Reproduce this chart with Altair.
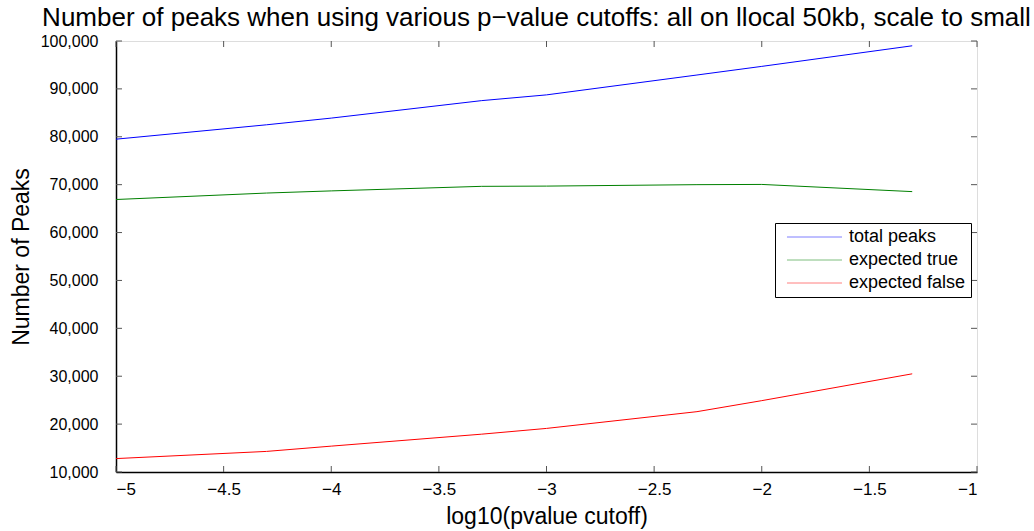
import altair as alt
import pandas as pd

log_p = [-5.0, -4.301, -4.0, -3.301, -3.0, -2.301, -2.0, -1.301]
total_peaks = [79500, 82500, 83900, 87550, 88750, 92900, 94700, 99000]
expected_true = [66900, 68250, 68700, 69650, 69700, 70000, 70050, 68550]
expected_false = [12800, 14300, 15400, 17900, 19100, 22600, 24900, 30500]
series_names = ["total peaks", "expected true", "expected false"]
series_colors = ["#0000ff", "#008000", "#ff0000"]
x_ticks = [-5, -4.5, -4, -3.5, -3, -2.5, -2, -1.5, -1]
y_ticks = [10000, 20000, 30000, 40000, 50000, 60000, 70000, 80000, 90000, 100000]

rows = []
for name, vals in zip(series_names, [total_peaks, expected_true, expected_false]):
    for x, v in zip(log_p, vals):
        rows.append({"x": x, "peaks": v, "series": name})
df = pd.DataFrame(rows)

W, H = 861, 431
FONT = "Liberation Sans"

xs = alt.Scale(domain=[-5, -1], nice=False)
ys = alt.Scale(domain=[10000, 100000], nice=False)

lines = alt.Chart(df).mark_line(strokeWidth=1, clip=True).encode(
    x=alt.X("x:Q", scale=xs,
            axis=alt.Axis(values=x_ticks, format="~g", title="log10(pvalue cutoff)",
                          ticks=False, domain=True, domainColor="black", domainWidth=1.5,
                          grid=False, labelPadding=9,
                          labelFontSize=17, titleFontSize=23, titlePadding=8,
                          labelColor="black", titleColor="black", titleFontWeight="normal",
                          labelFont=FONT, titleFont=FONT)),
    y=alt.Y("peaks:Q", scale=ys,
            axis=alt.Axis(values=y_ticks, format=",d", title="Number of Peaks",
                          ticks=False, domain=True, domainColor="black", domainWidth=1.5,
                          grid=False, labelPadding=18,
                          labelFontSize=16, titleFontSize=23, titlePadding=7,
                          labelColor="black", titleColor="black", titleFontWeight="normal",
                          labelFont=FONT, titleFont=FONT)),
    color=alt.Color("series:N", sort=series_names,
                    scale=alt.Scale(domain=series_names, range=series_colors),
                    legend=alt.Legend(title=None, orient="none", legendX=659, legendY=182,
                                      symbolType="M-0.286,0L7.57,0", symbolSize=196,
                                      symbolStrokeWidth=1, symbolOpacity=0.5,
                                      labelFontSize=18, labelFont=FONT, labelColor="black",
                                      strokeColor="black", fillColor="white", padding=5,
                                      rowPadding=5, labelOffset=51)),
)

ytick_df = pd.DataFrame({"v": y_ticks})
xtick_df = pd.DataFrame({"v": x_ticks})
tick_color = "#555555"

yl = alt.Chart(ytick_df).mark_rule(color=tick_color, strokeWidth=1).encode(
    y=alt.Y("v:Q", scale=ys), x=alt.value(0), x2=alt.value(6))
yr = alt.Chart(ytick_df).mark_rule(color=tick_color, strokeWidth=1).encode(
    y=alt.Y("v:Q", scale=ys), x=alt.value(W - 6), x2=alt.value(W))
xb = alt.Chart(xtick_df).mark_rule(color=tick_color, strokeWidth=1).encode(
    x=alt.X("v:Q", scale=xs), y=alt.value(H - 6), y2=alt.value(H))
xt = alt.Chart(xtick_df).mark_rule(color=tick_color, strokeWidth=1).encode(
    x=alt.X("v:Q", scale=xs), y=alt.value(0), y2=alt.value(6))

chart = alt.layer(yl, yr, xb, xt, lines).properties(
    width=W, height=H,
    autosize=alt.AutoSizeParams(type="none"),
    padding={"left": 116, "top": 41, "right": 57, "bottom": 59},
    title=alt.Title("Number of peaks when using various p\u2212value cutoffs: all on llocal 50kb, scale to small",
                    fontSize=26, font=FONT, fontWeight="normal", color="black",
                    anchor="middle", dx=-10, offset=9, dy=7),
).configure_view(stroke="#333333", strokeWidth=1).configure(background="white")

chart.save("out.html", embed_options={"renderer": "svg", "actions": False})
